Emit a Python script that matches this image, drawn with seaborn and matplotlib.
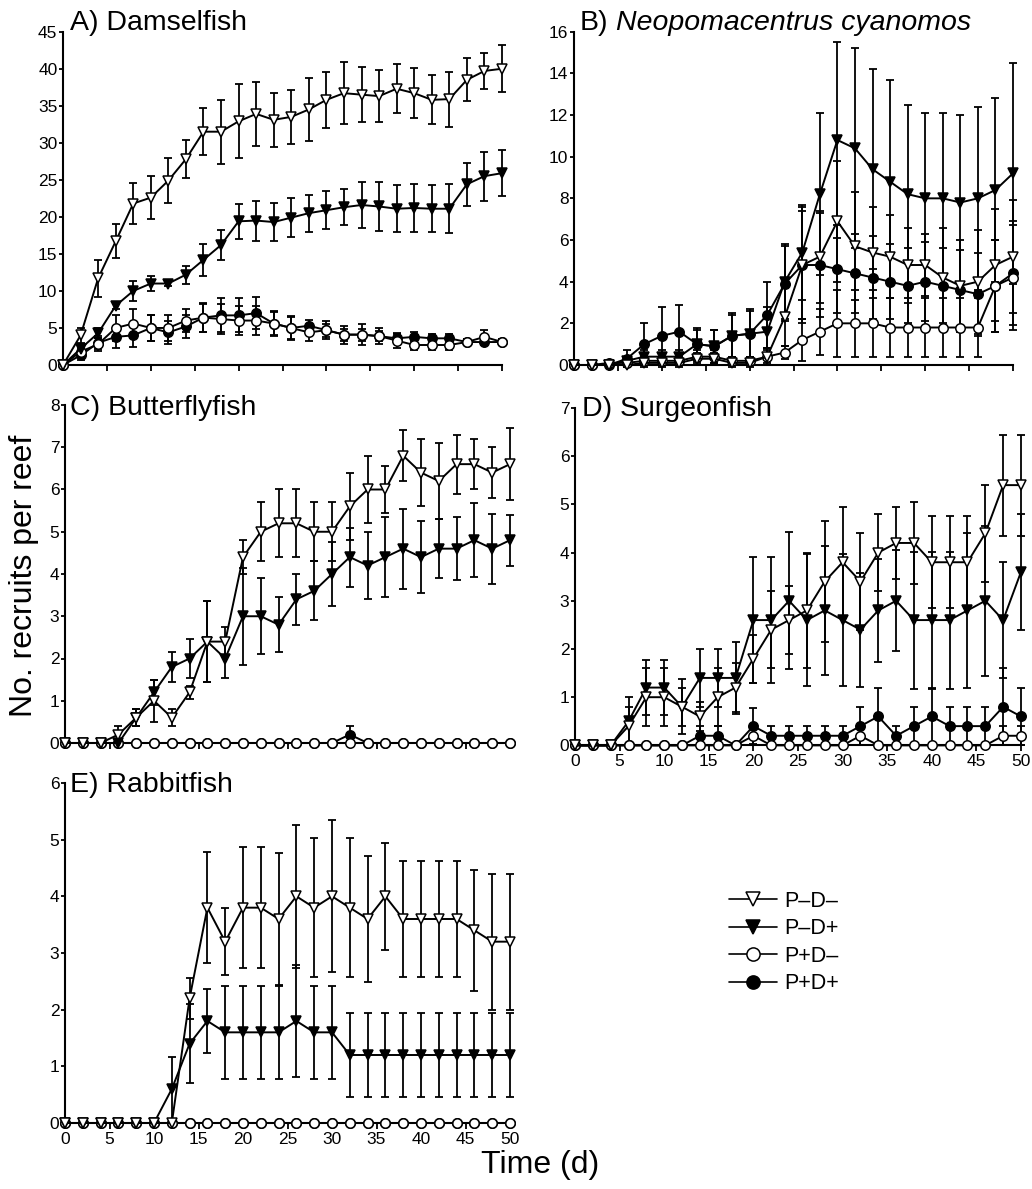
import numpy as np
import pandas as pd
import matplotlib
matplotlib.use("Agg")
import matplotlib.pyplot as plt
import seaborn as sns
from matplotlib.lines import Line2D

# ---------------- data ----------------
time = [0, 2, 4, 6, 8, 10, 12, 14, 16, 18, 20, 22, 24, 26, 28, 30, 32, 34, 36, 38, 40, 42, 44, 46, 48, 50]
series_names = ["P–D–", "P–D+", "P+D–", "P+D+"]

# A) Damselfish
A_pdm = [0, 4.0, 11.7, 16.7, 21.8, 22.6, 24.9, 27.8, 31.5, 31.5, 32.9, 33.9, 33.1, 33.5, 34.5, 35.8, 36.7, 36.5, 36.3, 37.3, 36.7, 35.8, 35.9, 38.5, 39.7, 40.0]
A_pdm_se = [0, 1.0, 2.5, 2.3, 2.8, 2.9, 3.0, 2.6, 3.2, 4.3, 5.0, 4.3, 3.6, 3.6, 4.3, 3.8, 4.2, 3.7, 3.5, 3.3, 3.4, 3.3, 3.7, 2.9, 2.4, 3.2]
A_pdp = [0, 2.2, 4.3, 8.0, 10.0, 11.0, 11.0, 12.2, 14.2, 16.2, 19.4, 19.5, 19.3, 19.9, 20.5, 20.9, 21.3, 21.6, 21.4, 21.1, 21.2, 21.1, 21.1, 24.4, 25.5, 25.9]
A_pdp_se = [0, 0.6, 0.7, 0.4, 1.4, 1.0, 0.4, 1.2, 2.2, 2.0, 2.4, 2.7, 2.6, 2.6, 2.5, 2.6, 2.4, 3.1, 3.3, 3.2, 3.3, 3.2, 3.3, 2.9, 3.3, 3.1]
A_ppm = [0, 1.8, 2.8, 5.0, 5.6, 5.0, 5.0, 6.0, 6.4, 6.2, 6.0, 6.0, 5.6, 5.0, 4.4, 4.7, 4.1, 4.1, 3.9, 3.3, 2.7, 2.7, 2.7, 3.1, 3.8, 3.1]
A_ppm_se = [0, 0.5, 0.9, 1.7, 2.0, 1.8, 1.7, 1.6, 2.0, 2.0, 2.0, 2.0, 1.6, 1.6, 1.1, 1.2, 1.2, 1.4, 1.1, 1.0, 0.7, 0.7, 0.7, 0.4, 0.9, 0.4]
A_ppp = [0, 1.3, 3.0, 3.8, 4.0, 5.0, 4.4, 5.2, 6.4, 6.7, 6.7, 7.0, 5.6, 5.0, 5.3, 4.7, 4.1, 4.1, 3.9, 3.6, 3.8, 3.6, 3.6, 3.1, 3.1, 3.1]
A_ppp_se = [0, 0.6, 0.9, 1.5, 1.6, 1.8, 1.6, 1.6, 1.9, 2.3, 2.3, 2.2, 1.7, 1.5, 0.8, 0.9, 0.8, 0.8, 0.7, 0.6, 0.6, 0.6, 0.6, 0.4, 0.4, 0.4]

# B) Neopomacentrus cyanomos
B_pdm = [0, 0, 0, 0, 0.1, 0.1, 0.1, 0.3, 0.3, 0.1, 0.1, 0.4, 2.3, 4.8, 5.2, 6.9, 5.7, 5.4, 5.2, 4.8, 4.8, 4.2, 3.8, 4.0, 4.8, 5.2]
B_pdm_se = [0, 0.1, 0.1, 0.1, 0.2, 0.2, 0.2, 0.3, 0.3, 0.2, 0.2, 0.4, 1.4, 2.8, 2.2, 2.9, 2.6, 2.2, 2.0, 1.8, 1.5, 2.4, 2.2, 2.5, 2.7, 2.7]
B_pdp = [0, 0, 0, 0.2, 0.4, 0.4, 0.4, 1.0, 0.9, 1.4, 1.5, 1.6, 4.0, 5.4, 8.2, 10.8, 10.4, 9.4, 8.8, 8.2, 8.0, 8.0, 7.8, 8.0, 8.4, 9.2]
B_pdp_se = [0, 0.1, 0.1, 0.2, 0.3, 0.3, 0.3, 0.7, 0.8, 1.0, 1.1, 1.2, 1.8, 2.3, 3.9, 4.7, 4.8, 4.8, 4.9, 4.3, 4.1, 4.1, 4.2, 4.4, 4.4, 5.3]
B_ppm = [0, 0, 0.1, 0.1, 0.2, 0.2, 0.2, 0.4, 0.4, 0.2, 0.2, 0.4, 0.6, 1.2, 1.6, 2.0, 2.0, 2.0, 1.8, 1.8, 1.8, 1.8, 1.8, 1.8, 3.8, 4.2]
B_ppm_se = [0, 0, 0.1, 0.1, 0.2, 0.2, 0.2, 0.3, 0.3, 0.2, 0.2, 0.3, 0.3, 1.0, 1.1, 1.6, 1.6, 1.6, 1.4, 1.4, 1.4, 1.4, 1.4, 1.4, 2.2, 2.5]
B_ppp = [0, 0, 0, 0.3, 1.0, 1.4, 1.6, 1.0, 0.9, 1.4, 1.5, 2.4, 3.9, 4.8, 4.8, 4.6, 4.4, 4.2, 4.0, 3.8, 4.0, 3.8, 3.6, 3.4, 3.8, 4.4]
B_ppp_se = [0, 0, 0, 0.4, 1.0, 1.4, 1.3, 0.8, 0.8, 1.1, 1.2, 1.6, 1.8, 2.6, 2.5, 2.1, 1.9, 2.0, 1.8, 1.8, 1.9, 1.8, 1.9, 2.0, 2.2, 2.5]

# C) Butterflyfish
C_pdm = [0, 0, 0, 0.2, 0.6, 1.0, 0.6, 1.2, 2.4, 2.4, 4.4, 5.0, 5.2, 5.2, 5.0, 5.0, 5.6, 6.0, 6.0, 6.8, 6.4, 6.2, 6.6, 6.6, 6.4, 6.6]
C_pdm_se = [0, 0, 0, 0.2, 0.2, 0.5, 0.2, 0.15, 0.95, 0.35, 0.4, 0.7, 0.8, 0.8, 0.7, 0.7, 0.8, 0.8, 0.55, 0.6, 0.8, 0.9, 0.7, 0.6, 0.6, 0.85]
C_pdp = [0, 0, 0, 0, 0.6, 1.2, 1.8, 2.0, 2.4, 2.0, 3.0, 3.0, 2.8, 3.4, 3.6, 4.0, 4.4, 4.2, 4.4, 4.6, 4.4, 4.6, 4.6, 4.8, 4.6, 4.8]
C_pdp_se = [0, 0, 0, 0, 0.2, 0.3, 0.35, 0.45, 0.95, 0.45, 1.15, 0.9, 0.65, 0.6, 0.7, 0.75, 0.7, 0.8, 0.95, 0.95, 0.85, 0.7, 0.75, 0.87, 0.83, 0.6]
C_ppm = [0, 0, 0, 0, 0, 0, 0, 0, 0, 0, 0, 0, 0, 0, 0, 0, 0, 0, 0, 0, 0, 0, 0, 0, 0, 0]
C_ppm_se = [0, 0, 0, 0, 0, 0, 0, 0, 0, 0, 0, 0, 0, 0, 0, 0, 0, 0, 0, 0, 0, 0, 0, 0, 0, 0]
C_ppp = [0, 0, 0, 0, 0, 0, 0, 0, 0, 0, 0, 0, 0, 0, 0, 0, 0.2, 0, 0, 0, 0, 0, 0, 0, 0, 0]
C_ppp_se = [0, 0, 0, 0, 0, 0, 0, 0, 0, 0, 0, 0, 0, 0, 0, 0, 0.2, 0, 0, 0, 0, 0, 0, 0, 0, 0]

# D) Surgeonfish
D_pdm = [0, 0, 0, 0.4, 1.0, 1.0, 0.8, 0.6, 1.0, 1.2, 1.8, 2.4, 2.6, 2.8, 3.4, 3.8, 3.4, 4.0, 4.2, 4.2, 3.8, 3.8, 3.8, 4.4, 5.4, 5.4]
D_pdm_se = [0, 0, 0, 0.4, 0.6, 0.6, 0.4, 0.3, 0.6, 0.5, 0.5, 0.8, 0.7, 1.2, 1.25, 1.15, 1.0, 0.8, 0.75, 0.85, 0.95, 0.95, 0.95, 1.0, 1.05, 1.05]
D_pdp = [0, 0, 0, 0.5, 1.2, 1.2, 0.8, 1.4, 1.4, 1.4, 2.6, 2.6, 3.0, 2.6, 2.8, 2.6, 2.4, 2.8, 3.0, 2.6, 2.6, 2.6, 2.8, 3.0, 2.6, 3.6]
D_pdp_se = [0, 0, 0, 0.5, 0.57, 0.57, 0.57, 0.6, 0.6, 0.75, 1.3, 1.3, 1.42, 1.37, 1.34, 1.37, 1.18, 1.06, 1.05, 1.42, 1.42, 1.42, 1.6, 1.56, 1.2, 1.2]
D_ppm = [0, 0, 0, 0, 0, 0, 0, 0, 0, 0, 0.2, 0, 0, 0, 0, 0, 0.2, 0, 0, 0, 0, 0, 0, 0, 0.2, 0.2]
D_ppm_se = [0, 0, 0, 0, 0, 0, 0, 0, 0, 0, 0.2, 0, 0, 0, 0, 0, 0.2, 0, 0, 0, 0, 0, 0, 0, 0.2, 0.2]
D_ppp = [0, 0, 0, 0, 0, 0, 0, 0.2, 0.2, 0, 0.4, 0.2, 0.2, 0.2, 0.2, 0.2, 0.4, 0.6, 0.2, 0.4, 0.6, 0.4, 0.4, 0.4, 0.8, 0.6]
D_ppp_se = [0, 0, 0, 0, 0, 0, 0, 0.2, 0.2, 0, 0.37, 0.2, 0.2, 0.2, 0.2, 0.2, 0.4, 0.6, 0.2, 0.4, 0.6, 0.4, 0.4, 0.4, 0.8, 0.6]

# E) Rabbitfish
E_pdm = [0, 0, 0, 0, 0, 0, 0, 2.2, 3.8, 3.2, 3.8, 3.8, 3.6, 4.0, 3.8, 4.0, 3.8, 3.6, 4.0, 3.6, 3.6, 3.6, 3.6, 3.4, 3.2, 3.2]
E_pdm_se = [0, 0, 0, 0, 0, 0, 0, 0.36, 0.98, 0.59, 1.07, 1.07, 1.16, 1.26, 1.23, 1.34, 1.23, 1.12, 0.94, 1.02, 1.02, 1.02, 1.02, 1.07, 1.2, 1.2]
E_pdp = [0, 0, 0, 0, 0, 0, 0.6, 1.4, 1.8, 1.6, 1.6, 1.6, 1.6, 1.8, 1.6, 1.6, 1.2, 1.2, 1.2, 1.2, 1.2, 1.2, 1.2, 1.2, 1.2, 1.2]
E_pdp_se = [0, 0, 0, 0, 0, 0, 0.57, 0.7, 0.57, 0.82, 0.82, 0.82, 0.82, 0.98, 0.82, 0.82, 0.74, 0.74, 0.74, 0.74, 0.74, 0.74, 0.74, 0.74, 0.74, 0.74]
E_ppm = [0, 0, 0, 0, 0, 0, 0, 0, 0, 0, 0, 0, 0, 0, 0, 0, 0, 0, 0, 0, 0, 0, 0, 0, 0, 0]
E_ppm_se = [0, 0, 0, 0, 0, 0, 0, 0, 0, 0, 0, 0, 0, 0, 0, 0, 0, 0, 0, 0, 0, 0, 0, 0, 0, 0]
E_ppp = [0, 0, 0, 0, 0, 0, 0, 0, 0, 0, 0, 0, 0, 0, 0, 0, 0, 0, 0, 0, 0, 0, 0, 0, 0, 0]
E_ppp_se = [0, 0, 0, 0, 0, 0, 0, 0, 0, 0, 0, 0, 0, 0, 0, 0, 0, 0, 0, 0, 0, 0, 0, 0, 0, 0]

y_ticks_A = [0, 5, 10, 15, 20, 25, 30, 35, 40, 45]
y_ticks_B = [0, 2, 4, 6, 8, 10, 12, 14, 16]
y_ticks_C = [0, 1, 2, 3, 4, 5, 6, 7, 8]
y_ticks_D = [0, 1, 2, 3, 4, 5, 6, 7]
y_ticks_E = [0, 1, 2, 3, 4, 5, 6]
x_ticks = [0, 5, 10, 15, 20, 25, 30, 35, 40, 45, 50]

# ---------------- style ----------------
sns.set_style("ticks")
plt.rcParams['font.family'] = ['Liberation Sans', 'DejaVu Sans']
plt.rcParams['text.color'] = 'black'
plt.rcParams['axes.labelcolor'] = 'black'
plt.rcParams['xtick.color'] = 'black'
plt.rcParams['ytick.color'] = 'black'

W, H = 1032, 1189
fig = plt.figure(figsize=(W / 100, H / 100), dpi=100)


def add_axes(left, right, top, bottom):
    return fig.add_axes([left / W, 1 - bottom / H, (right - left) / W, (bottom - top) / H])


marker_style = {
    "P–D–": dict(marker='v', markerfacecolor='white'),
    "P–D+": dict(marker='v', markerfacecolor='black'),
    "P+D–": dict(marker='o', markerfacecolor='white'),
    "P+D+": dict(marker='o', markerfacecolor='black'),
}

panels = [
    dict(box=(63, 502, 31.7, 365), vals=[A_pdm, A_pdp, A_ppm, A_ppp], ses=[A_pdm_se, A_pdp_se, A_ppm_se, A_ppp_se],
         ylim=45, yticks=y_ticks_A, xlabels=False),
    dict(box=(574, 1013, 31.7, 365), vals=[B_pdm, B_pdp, B_ppm, B_ppp], ses=[B_pdm_se, B_pdp_se, B_ppm_se, B_ppp_se],
         ylim=16, yticks=y_ticks_B, xlabels=False),
    dict(box=(65, 510, 405, 743), vals=[C_pdm, C_pdp, C_ppm, C_ppp], ses=[C_pdm_se, C_pdp_se, C_ppm_se, C_ppp_se],
         ylim=8, yticks=y_ticks_C, xlabels=False),
    dict(box=(575, 1021, 408, 745.4), vals=[D_pdm, D_pdp, D_ppm, D_ppp], ses=[D_pdm_se, D_pdp_se, D_ppm_se, D_ppp_se],
         ylim=7, yticks=y_ticks_D, xlabels=True),
    dict(box=(65, 510, 783, 1123), vals=[E_pdm, E_pdp, E_ppm, E_ppp], ses=[E_pdm_se, E_pdp_se, E_ppm_se, E_ppp_se],
         ylim=6, yticks=y_ticks_E, xlabels=True),
]

draw_order = [3, 2, 1, 0]

for p in panels:
    ax = add_axes(*p["box"])
    for k in draw_order:
        name = series_names[k]
        df = pd.DataFrame({"time": time, "value": p["vals"][k], "se": p["ses"][k]})
        eb = df[df["se"] > 0]
        if len(eb):
            ax.errorbar(eb["time"], eb["value"], yerr=eb["se"], fmt='none', ecolor='black',
                        elinewidth=1.3, capsize=3.2, capthick=1.3, zorder=2, clip_on=False)
        sns.lineplot(data=df, x="time", y="value", ax=ax, color='black', linewidth=1.4,
                     markersize=6.8, markeredgecolor='black', markeredgewidth=1.1,
                     errorbar=None, legend=False, clip_on=False, zorder=3,
                     **marker_style[name])
    ax.set_xlim(0, 50)
    ax.set_ylim(0, p["ylim"])
    ax.set_yticks(p["yticks"])
    ax.set_xticks(x_ticks)
    ax.set_xlabel("")
    ax.set_ylabel("")
    sns.despine(ax=ax)
    for s in ("left", "bottom"):
        ax.spines[s].set_linewidth(1.5)
        ax.spines[s].set_color('black')
    ax.tick_params(axis='y', direction='out', length=3, width=1.3, pad=1, labelsize=12.5,
                   colors='black', labelcolor='black')
    ax.tick_params(axis='x', direction='out', length=4.5, width=1.3, pad=2, labelsize=12.5,
                   colors='black', labelcolor='black', labelbottom=p["xlabels"])
    ax.patch.set_alpha(0)

# ---------------- titles ----------------
def ftext(x, y, s, **kw):
    fig.text(x / W, 1 - y / H, s, color='black', **kw)

tfs = 20.5
ftext(70, 30, "A) Damselfish", fontsize=tfs, va='baseline', ha='left')
ftext(580, 30, "B)", fontsize=tfs, va='baseline', ha='left')
ftext(616, 30, "Neopomacentrus cyanomos", fontsize=tfs, va='baseline', ha='left', style='italic')
ftext(70, 415, "C) Butterflyfish", fontsize=tfs, va='baseline', ha='left')
ftext(582, 416, "D) Surgeonfish", fontsize=tfs, va='baseline', ha='left')
ftext(70, 792, "E) Rabbitfish", fontsize=tfs, va='baseline', ha='left')

ftext(24, 576, "No. recruits per reef", fontsize=23, rotation=90, va='center', ha='center')
ftext(540, 1165, "Time (d)", fontsize=23, va='center', ha='center')

# ---------------- legend ----------------
handles = [Line2D([0], [0], color='black', linewidth=1.2, markersize=9.5, markeredgecolor='black',
                  markeredgewidth=1.1, **marker_style[n]) for n in series_names]
leg = fig.legend(handles, series_names, loc='upper left', bbox_to_anchor=(729 / W, 1 - 891 / H),
                 frameon=False, fontsize=15.5, handlelength=2.25, handletextpad=0.3,
                 labelspacing=0.3, borderpad=0, borderaxespad=0)
for t in leg.get_texts():
    t.set_color('black')

fig.savefig("out.png", dpi=100, facecolor='white')
